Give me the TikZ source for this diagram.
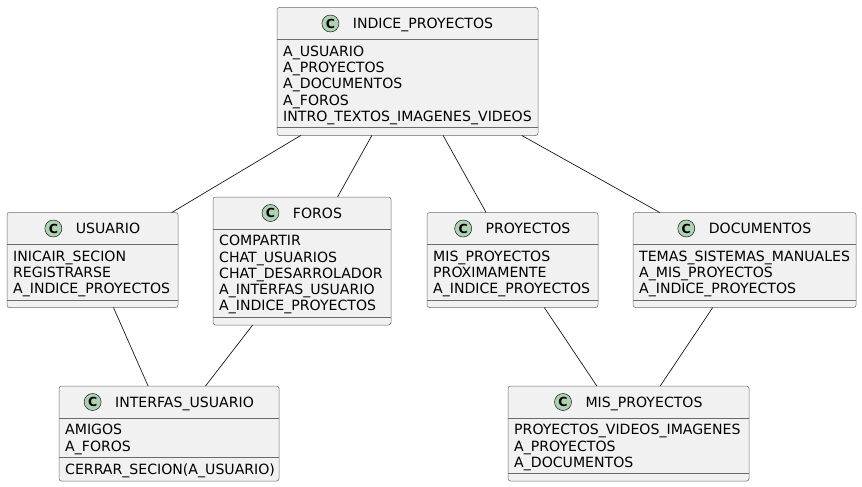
\documentclass[tikz,border=0pt]{standalone}
\usepackage{fontspec}
\setmainfont{DejaVu Sans}
\usetikzlibrary{positioning}
\definecolor{boxfill}{HTML}{F1F1F1}
\definecolor{boxline}{HTML}{181818}
\definecolor{framegray}{HTML}{6A6A6A}
\definecolor{spotfill}{HTML}{ADD1B2}

\begin{document}
\begin{tikzpicture}[x=1pt, y=-1pt,
    classbox/.style={draw=framegray, fill=boxfill, line width=0.5pt, rounded corners=2.5pt, inner sep=0pt, outer sep=0pt},
    sepline/.style={draw=framegray, line width=0.5pt},
    spot/.style={circle, draw=boxline, fill=spotfill, line width=0.5pt, minimum size=17pt, inner sep=0pt, outer sep=0pt, font=\fontsize{12.5}{12.5}\selectfont\bfseries},
    title/.style={inner sep=0pt, outer sep=0pt, text height=10.2pt, text depth=0pt, font=\fontsize{14.1}{16.25}\selectfont},
    attrs/.style={inner sep=0pt, anchor=north west, align=left, font=\fontsize{14.1}{16.25}\selectfont},
    assoc/.style={draw=boxline, line width=0.7pt}]
            \useasboundingbox (0,0) rectangle (862,487);

            % classes
            \node[classbox, minimum width=261pt, minimum height=128pt] (indice) at (407.5,71.5) {};
            \node[classbox, minimum width=171pt, minimum height=95pt] (usuario) at (92.5,260) {};
            \node[classbox, minimum width=178pt, minimum height=128pt] (foros) at (302,261) {};
            \node[classbox, minimum width=171pt, minimum height=95pt] (proyectos) at (512.5,260) {};
            \node[classbox, minimum width=223pt, minimum height=95pt] (documentos) at (744.5,260) {};
            \node[classbox, minimum width=220pt, minimum height=95pt] (interfas) at (169,433.5) {};
            \node[classbox, minimum width=241pt, minimum height=95pt] (misproy) at (628.5,433.5) {};

            % headers
            \node[title] (indiceT) at ([xshift=15.5pt, yshift=-16pt]indice.north) {INDICE\_PROYECTOS};
            \node[spot, left=14pt of indiceT] (indiceC) {C};
            \node[title] (usuarioT) at ([xshift=15.5pt, yshift=-16pt]usuario.north) {USUARIO};
            \node[spot, left=14pt of usuarioT] (usuarioC) {C};
            \node[title] (forosT) at ([xshift=15.5pt, yshift=-16pt]foros.north) {FOROS};
            \node[spot, left=14pt of forosT] (forosC) {C};
            \node[title] (proyectosT) at ([xshift=15.5pt, yshift=-16pt]proyectos.north) {PROYECTOS};
            \node[spot, left=14pt of proyectosT] (proyectosC) {C};
            \node[title] (documentosT) at ([xshift=15.5pt, yshift=-16pt]documentos.north) {DOCUMENTOS};
            \node[spot, left=14pt of documentosT] (documentosC) {C};
            \node[title] (interfasT) at ([xshift=15.5pt, yshift=-16pt]interfas.north) {INTERFAS\_USUARIO};
            \node[spot, left=14pt of interfasT] (interfasC) {C};
            \node[title] (misproyT) at ([xshift=15.5pt, yshift=-16pt]misproy.north) {MIS\_PROYECTOS};
            \node[spot, left=14pt of misproyT] (misproyC) {C};

            \foreach \cls in {indice, usuario, foros, proyectos, documentos, interfas, misproy}
                \draw[sepline] ([yshift=-32pt]\cls.north west) -- ([yshift=-32pt]\cls.north east);

            % attributes
            \node[attrs] (indiceA) at ([xshift=6pt, yshift=-38.3pt]indice.north west)
                {A\_USUARIO\\A\_PROYECTOS\\A\_DOCUMENTOS\\A\_FOROS\\INTRO\_TEXTOS\_IMAGENES\_VIDEOS};
            \node[attrs] (usuarioA) at ([xshift=6pt, yshift=-38.3pt]usuario.north west)
                {INICAIR\_SECION\\REGISTRARSE\\A\_INDICE\_PROYECTOS};
            \node[attrs] (forosA) at ([xshift=6pt, yshift=-38.3pt]foros.north west)
                {COMPARTIR\\CHAT\_USUARIOS\\CHAT\_DESARROLADOR\\A\_INTERFAS\_USUARIO\\A\_INDICE\_PROYECTOS};
            \node[attrs] (proyectosA) at ([xshift=6pt, yshift=-38.3pt]proyectos.north west)
                {MIS\_PROYECTOS\\PROXIMAMENTE\\A\_INDICE\_PROYECTOS};
            \node[attrs] (documentosA) at ([xshift=6pt, yshift=-38.3pt]documentos.north west)
                {TEMAS\_SISTEMAS\_MANUALES\\A\_MIS\_PROYECTOS\\A\_INDICE\_PROYECTOS};
            \node[attrs] (interfasA) at ([xshift=6pt, yshift=-38.3pt]interfas.north west)
                {AMIGOS\\A\_FOROS};
            \node[attrs, text height=10.2pt] (interfasM) at ([xshift=6pt, yshift=-77.8pt]interfas.north west)
                {CERRAR\_SECION(A\_USUARIO)};
            \node[attrs] (misproyA) at ([xshift=6pt, yshift=-38.3pt]misproy.north west)
                {PROYECTOS\_VIDEOS\_IMAGENES\\A\_PROYECTOS\\A\_DOCUMENTOS};

            % lower separators
            \draw[sepline] ([yshift=8pt]indice.south west) -- ([yshift=8pt]indice.south east);
            \draw[sepline] ([yshift=7.5pt]usuario.south west) -- ([yshift=7.5pt]usuario.south east);
            \draw[sepline] ([yshift=8pt]foros.south west) -- ([yshift=8pt]foros.south east);
            \draw[sepline] ([yshift=7.5pt]proyectos.south west) -- ([yshift=7.5pt]proyectos.south east);
            \draw[sepline] ([yshift=7.5pt]documentos.south west) -- ([yshift=7.5pt]documentos.south east);
            \draw[sepline] ([yshift=23.75pt]interfas.south west) -- ([yshift=23.75pt]interfas.south east);
            \draw[sepline] ([yshift=7.5pt]misproy.south west) -- ([yshift=7.5pt]misproy.south east);

            % associations
            \path[assoc] (indice) edge (usuario);
            \path[assoc] (indice) edge (foros);
            \path[assoc] (indice) edge (proyectos);
            \path[assoc] (indice) edge (documentos);
            \path[assoc] (usuario) edge (interfas);
            \path[assoc] (foros) edge (interfas);
            \path[assoc] (proyectos) edge (misproy);
            \path[assoc] (documentos) edge (misproy);
        \end{tikzpicture}
\end{document}
